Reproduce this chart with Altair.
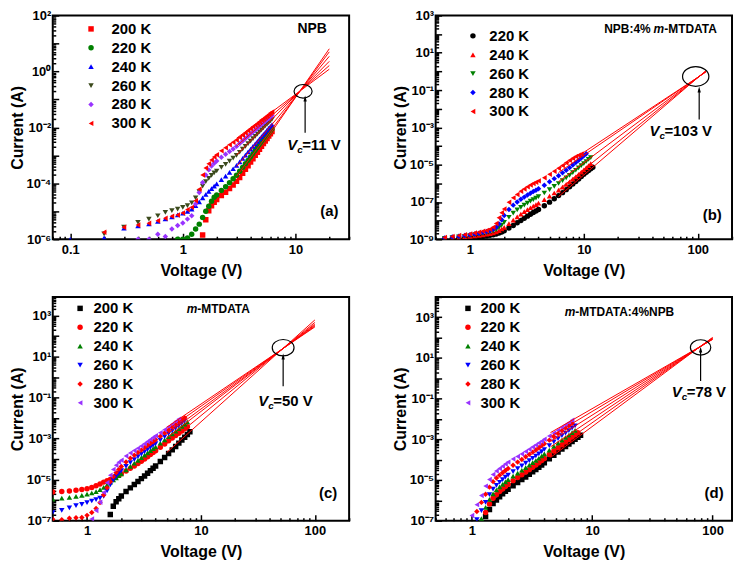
import altair as alt
import pandas as pd

FONT = "Liberation Sans"
RED, GREEN, BLUE, OLIVE, PURPLE, BLACK = "#FF0000", "#008000", "#0000FF", "#3B4A1C", "#9933FF", "#000000"
SHAPES6 = ["square", "circle", "triangle-up", "triangle-down", "diamond", "triangle-left"]

# ---------------- (a) NPB : log10(current / A) ----------------
a_volt = [0.1, 0.2, 0.3, 0.4, 0.5, 0.6, 0.7, 0.8, 0.9, 1.0, 1.1, 1.2, 1.3, 1.4, 1.5, 1.6, 1.7, 1.8, 1.9, 2.0,
          2.2, 2.4, 2.6, 2.8, 3.0, 3.2, 3.4, 3.6, 3.8, 4.0, 4.2, 4.4, 4.6, 4.8, 5.0, 5.2, 5.4, 5.6, 5.8, 6.0, 6.2]
a_200 = [None] * 14 + [-5.85, -5.30, -4.98, -4.80, -4.68, -4.58, -4.44, -4.32, -4.19, -4.06, -3.93, -3.79, -3.64,
                       -3.50, -3.37, -3.24, -3.12, -3.00, -2.89, -2.78, -2.68, -2.58, -2.49, -2.40, -2.31, -2.23, -2.15]
a_220 = [None] * 8 + [-6.0, -6.0, -5.95, -5.82, -5.63, -5.46, -5.22, -5.00, -4.82, -4.64, -4.50, -4.42,
                      -4.26, -4.12, -3.98, -3.84, -3.71, -3.57, -3.43, -3.30, -3.18, -3.06, -2.94, -2.83, -2.73,
                      -2.63, -2.54, -2.45, -2.36, -2.28, -2.20, -2.12, -2.05]
a_240 = [-6.0, -5.95, -5.60, -5.52, -5.45, -5.36, -5.27, -5.20, -5.13, -5.07, -5.00, -4.92, -4.80, -4.66, -4.52,
         -4.40, -4.29, -4.19, -4.10, -4.02, -3.87, -3.74, -3.61, -3.48, -3.36, -3.23, -3.11, -2.99, -2.88, -2.78,
         -2.68, -2.59, -2.50, -2.41, -2.33, -2.25, -2.18, -2.10, -2.03, -1.96, -1.90]
a_260 = [None, -5.81, -5.57, -5.40, -5.28, -5.16, -5.04, -4.98, -4.92, -4.86, -4.80, -4.70, -4.52, -4.30, -4.10,
         -3.94, -3.82, -3.72, -3.63, -3.56, -3.43, -3.32, -3.21, -3.10, -3.00, -2.89, -2.78, -2.68, -2.58, -2.49,
         -2.40, -2.32, -2.24, -2.16, -2.09, -2.02, -1.95, -1.89, -1.83, -1.77, -1.71]
a_280 = [None, None, None, -6.0, -6.0, -5.82, -5.90, -5.63, -5.51, -5.42, -5.28, -5.16, -4.74, -4.33, -3.97,
         -3.70, -3.52, -3.38, -3.28, -3.20, -3.07, -2.96, -2.86, -2.77, -2.68, -2.58, -2.49, -2.40, -2.32, -2.24,
         -2.17, -2.10, -2.03, -1.96, -1.90, -1.84, -1.78, -1.73, -1.68, -1.62, -1.58]
a_300 = [None, -5.75, -5.57, -5.49, -5.43, -5.34, -5.25, -5.18, -5.13, -5.06, -4.94, -4.86, -4.62, -4.21, -3.70,
         -3.45, -3.30, -3.17, -3.06, -2.98, -2.84, -2.73, -2.62, -2.53, -2.45, -2.36, -2.28, -2.20, -2.12, -2.05,
         -1.98, -1.92, -1.86, -1.80, -1.74, -1.69, -1.64, -1.59, -1.54, -1.49, -1.45]
a_labels = ["200 K", "220 K", "240 K", "260 K", "280 K", "300 K"]
a_colors = [RED, GREEN, BLUE, OLIVE, PURPLE, RED]
a_fit_v = [3.0, 20.0]
a_fit_start = [-3.97, -3.75, -3.40, -2.99, -2.67, -2.39]
a_fit_end = [0.81, 0.70, 0.54, 0.36, 0.21, 0.08]

# ---------------- (b) NPB:4% m-MTDATA ----------------
b_volt = [0.6, 0.7, 0.8, 0.9, 1.0, 1.1, 1.2, 1.3, 1.4, 1.5, 1.6, 1.7, 1.8, 1.9, 2.0,
          2.2, 2.4, 2.6, 2.8, 3.0, 3.2, 3.4, 3.6, 3.8, 4.0,
          4.5, 5.0, 5.5, 6.0, 6.5, 7.0, 7.5, 8.0, 8.5, 9.0, 9.5, 10.0, 10.5, 11.0, 11.5, 12.0]
b_220 = [-8.99, -8.97, -8.95, -8.93, -8.91, -8.89, -8.87, -8.85, -8.82, -8.79, -8.76, -8.72, -8.67, -8.61, -8.54,
         -8.40, -8.26, -8.12, -7.99, -7.87, -7.76, -7.66, -7.57, -7.48, -7.40,
         -7.20, -7.01, -6.83, -6.66, -6.50, -6.34, -6.19, -6.04, -5.90, -5.77, -5.64, -5.52, -5.41, -5.31, -5.22, -5.14]
b_240 = [-8.97, -8.94, -8.91, -8.88, -8.85, -8.82, -8.79, -8.76, -8.73, -8.70, -8.66, -8.61, -8.54, -8.45, -8.36,
         -8.16, -7.97, -7.80, -7.65, -7.52, -7.41, -7.31, -7.22, -7.14, -7.06,
         -6.87, -6.69, -6.52, -6.36, -6.21, -6.06, -5.92, -5.78, -5.65, -5.52, -5.40, -5.28, -5.16, -5.05, -4.95, None]
b_260 = [-8.95, -8.91, -8.87, -8.84, -8.80, -8.77, -8.73, -8.69, -8.65, -8.61, -8.56, -8.49, -8.38, -8.24, -8.09,
         -7.82, -7.60, -7.43, -7.29, -7.17, -7.06, -6.96, -6.87, -6.79, -6.71,
         -6.52, -6.34, -6.17, -6.01, -5.86, -5.71, -5.57, -5.43, -5.30, -5.17, -5.05, -4.94, -4.83, -4.72, -4.62, None]
b_280 = [-8.93, -8.88, -8.84, -8.80, -8.76, -8.72, -8.68, -8.63, -8.58, -8.53, -8.46, -8.36, -8.18, -7.95, -7.73,
         -7.40, -7.17, -7.00, -6.86, -6.74, -6.63, -6.53, -6.44, -6.37, -6.29,
         -6.10, -5.92, -5.75, -5.59, -5.44, -5.30, -5.16, -5.02, -4.89, -4.76, -4.64, -4.52, -4.41, None, None, None]
b_300 = [-8.90, -8.85, -8.80, -8.76, -8.72, -8.67, -8.62, -8.57, -8.53, -8.46, -8.36, -8.15, -7.85, -7.58, -7.38,
         -7.02, -6.78, -6.60, -6.43, -6.30, -6.19, -6.09, -6.01, -5.94, -5.87,
         -5.70, -5.52, -5.35, -5.19, -5.04, -4.90, -4.77, -4.66, -4.56, -4.49, -4.43, None, None, None, None, None]
b_labels = ["220 K", "240 K", "260 K", "280 K", "300 K"]
b_colors = [BLACK, RED, GREEN, BLUE, RED]
b_shapes = ["circle", "triangle-up", "triangle-down", "diamond", "triangle-left"]
b_fit_v = [6.0, 118.0]
b_fit_start = [-6.71, -6.35, -5.91, -5.42, -5.23]
b_fit_end = [0.04, 0.02, 0.0, -0.02, -0.03]

# ---------------- (c) m-MTDATA ----------------
c_volt = [0.5, 0.6, 0.7, 0.8, 0.9, 1.0, 1.1, 1.2, 1.3, 1.4, 1.5, 1.6, 1.7, 1.8, 1.9, 2.0,
          2.2, 2.4, 2.6, 2.8, 3.0, 3.2, 3.4, 3.6, 3.8, 4.0,
          4.4, 4.8, 5.2, 5.6, 6.0, 6.4, 6.8, 7.2, 7.6, 8.0]
c_200 = [None] * 11 + [-6.70, -6.30, -6.08, -5.93, -5.80, -5.58, -5.40, -5.24, -5.09, -4.95, -4.82, -4.69, -4.56,
                       -4.44, -4.33, -4.12, -3.92, -3.73, -3.55, -3.38, -3.22, -3.07, -2.93, -2.80, -2.67]
c_220 = [-5.60, -5.58, -5.55, -5.52, -5.48, -5.44, -5.38, -5.30, -5.21, -5.12, -5.05, -4.99, -4.92, -4.85, -4.78,
         -4.71, -4.58, -4.45, -4.33, -4.21, -4.10, -3.99, -3.88, -3.78, -3.68, -3.59,
         -3.42, -3.26, -3.11, -2.97, -2.85, -2.74, -2.63, -2.52, -2.42, None]
c_240 = [-5.95, -5.90, -5.86, -5.82, -5.77, -5.71, -5.65, -5.58, -5.49, -5.38, -5.25, -5.12, -5.01, -4.91, -4.81,
         -4.72, -4.52, -4.35, -4.20, -4.06, -3.93, -3.81, -3.70, -3.59, -3.49, -3.40,
         -3.22, -3.06, -2.91, -2.77, -2.64, -2.52, -2.40, -2.29, -2.19, None]
c_260 = [-6.60, -6.50, -6.38, -6.27, -6.20, -6.12, -6.04, -5.97, -5.90, -5.81, -5.55, -5.25, -5.02, -4.84, -4.69,
         -4.56, -4.35, -4.17, -4.02, -3.88, -3.76, -3.64, -3.53, -3.43, -3.33, -3.24,
         -3.07, -2.91, -2.76, -2.62, -2.49, -2.37, -2.25, -2.14, None, None]
c_280 = [-6.93, -6.95, -6.88, -6.86, -6.84, -6.74, -6.60, -6.40, -6.12, -5.75, -5.40, -5.10, -4.86, -4.66, -4.50,
         -4.36, -4.14, -3.96, -3.81, -3.68, -3.56, -3.45, -3.34, -3.24, -3.15, -3.06,
         -2.89, -2.73, -2.58, -2.44, -2.31, -2.19, -2.08, -1.98, None, None]
c_300 = [None] * 6 + [-6.92, -6.50, -6.10, -5.62, -5.15, -4.78, -4.50, -4.30, -4.15, -4.05,
                      -3.85, -3.70, -3.58, -3.47, -3.36, -3.25, -3.14, -3.04, -2.95, -2.86,
                      -2.71, -2.57, -2.43, -2.30, -2.17, -2.05, None, None, None, None]
c_labels = ["200 K", "220 K", "240 K", "260 K", "280 K", "300 K"]
c_colors = [BLACK, RED, GREEN, BLUE, RED, PURPLE]
c_fit_v = [5.0, 100.0]
c_fit_start = [-3.68, -3.25, -2.96, -2.79, -2.60, -2.45]
c_fit_end = [2.78, 2.66, 2.58, 2.53, 2.48, 2.44]

# ---------------- (d) m-MTDATA:4%NPB ----------------
d_volt = [0.9, 1.0, 1.1, 1.2, 1.3, 1.4, 1.5, 1.6, 1.7, 1.8, 1.9, 2.0,
          2.2, 2.4, 2.6, 2.8, 3.0, 3.2, 3.4, 3.6, 3.8, 4.0,
          4.4, 4.8, 5.2, 5.6, 6.0, 6.4, 6.8, 7.2, 7.6, 8.0]
d_200 = [None] * 4 + [-6.80, -6.45, -6.15, -5.98, -5.82, -5.68, -5.55, -5.45,
                      -5.28, -5.12, -4.98, -4.85, -4.72, -4.60, -4.48, -4.37, -4.26, -4.15,
                      -3.96, -3.78, -3.62, -3.48, -3.35, -3.23, -3.11, -3.00, -2.90, -2.80]
d_220 = [None] * 4 + [-6.60, -6.18, -5.90, -5.72, -5.57, -5.44, -5.32, -5.21,
                      -5.03, -4.88, -4.74, -4.61, -4.49, -4.37, -4.26, -4.15, -4.04, -3.94,
                      -3.75, -3.57, -3.41, -3.27, -3.13, -3.01, -2.89, -2.78, -2.68, None]
d_240 = [None] * 3 + [-6.90, -6.35, -5.95, -5.68, -5.49, -5.34, -5.21, -5.09, -4.98,
                      -4.81, -4.66, -4.52, -4.39, -4.27, -4.15, -4.04, -3.93, -3.82, -3.72,
                      -3.53, -3.35, -3.19, -3.04, -2.91, -2.79, -2.67, -2.56, None, None]
d_260 = [None] * 2 + [-6.95, -6.50, -6.10, -5.72, -5.45, -5.26, -5.11, -4.98, -4.86, -4.76,
                      -4.59, -4.44, -4.30, -4.17, -4.05, -3.93, -3.82, -3.71, -3.60, -3.50,
                      -3.31, -3.13, -2.97, -2.82, -2.69, -2.57, -2.45, -2.34, None, None]
d_280 = [None] * 2 + [-6.55, -6.10, -5.70, -5.35, -5.08, -4.90, -4.76, -4.64, -4.53, -4.43,
                      -4.27, -4.12, -3.99, -3.86, -3.74, -3.63, -3.52, -3.41, -3.31, -3.22,
                      -3.04, -2.87, -2.72, -2.58, -2.45, -2.33, -2.22, None, None, None]
d_300 = [None, -6.74, -6.21, -5.76, -5.30, -4.97, -4.73, -4.56, -4.43, -4.32, -4.21, -4.12,
         -3.97, -3.84, -3.72, -3.60, -3.49, -3.38, -3.28, -3.18, -3.09, -3.00,
         -2.84, -2.69, -2.55, -2.42, -2.30, -2.18, -2.06, None, None, None]
d_labels = ["200 K", "220 K", "240 K", "260 K", "280 K", "300 K"]
d_colors = [BLACK, RED, GREEN, BLUE, RED, PURPLE]
d_fit_v = [4.5, 100.0]
d_fit_start = [-3.89, -3.63, -3.37, -3.11, -2.86, -2.67]
d_fit_end = [2.01, 1.99, 1.96, 1.94, 1.92, 1.91]

SUP = str.maketrans("-0123456789", "⁻⁰¹²³⁴⁵⁶⁷⁸⁹")
ELLIPSE = "M -1 0 A 1 0.75 0 1 1 1 0 A 1 0.75 0 1 1 -1 0 Z"
ARROW = "M 0 -1 L 0.55 1 L -0.55 1 Z"


def y_label_expr(exps):
    e = "round(log(datum.value) / LN10)"
    parts = [f"{e} == {n} ? '10{str(n).translate(SUP)}'" for n in exps]
    return " : ".join(parts) + " : ''"


def minor(lo, hi, d0, d1):
    return [k * 10.0 ** n for n in range(d0, d1) for k in range(2, 10) if lo <= k * 10.0 ** n <= hi]


def point_df(volt, series, labels):
    rows = []
    for lab, logs in zip(labels, series):
        for v, e in zip(volt, logs):
            if e is not None:
                rows.append({"V": v, "I": 10 ** e, "T": lab})
    return pd.DataFrame(rows)


def fit_df(fv, starts, ends, labels):
    rows = []
    for lab, s, e in zip(labels, starts, ends):
        rows.append({"V": fv[0], "I": 10 ** s, "T": lab})
        rows.append({"V": fv[1], "I": 10 ** e, "T": lab})
    return pd.DataFrame(rows)


def txt(xs, ys, x, y, s, size, italic=False, align="left", dx=0, dy=0):
    df = pd.DataFrame({"V": [x], "I": [y], "t": [s]})
    return alt.Chart(df).mark_text(font=FONT, fontSize=size, fontWeight="bold",
                                   fontStyle="italic" if italic else "normal", align=align,
                                   baseline="middle", dx=dx, dy=dy, color="black").encode(
        x=alt.X("V:Q", scale=xs, axis=None), y=alt.Y("I:Q", scale=ys, axis=None), text="t:N")


def panel(volt, series, labels, colors, shapes, fv, fs, fe, xdom, ydom, xmaj, xdec, ydec, ylab,
          leg_xy, leg_off, notes, vc, ell_size, W, H):
    xs = alt.Scale(type="log", domain=xdom, nice=False)
    ys = alt.Scale(type="log", domain=ydom, nice=False)
    ymaj = [10.0 ** n for n in range(ydec[0], ydec[1] + 1)]
    leg = alt.Legend(title=None, orient="none", legendX=leg_xy[0], legendY=leg_xy[1], padding=0,
                     labelFont=FONT, labelFontSize=15, labelFontWeight="bold", labelColor="black",
                     symbolSize=30, rowPadding=3, labelOffset=leg_off, symbolStrokeWidth=0)
    pts = alt.Chart(point_df(volt, series, labels)).mark_point(
        filled=True, size=30, opacity=1, clip=True).encode(
        x=alt.X("V:Q", scale=xs, axis=alt.Axis(orient="bottom", values=xmaj, format="~g", title="Voltage (V)",
                                              domain=False, grid=False, tickSize=6, offset=-6, labelPadding=4,
                                              titlePadding=6, labelFlush=False, labelOverlap=False)),
        y=alt.Y("I:Q", scale=ys, axis=alt.Axis(orient="left", values=ymaj, labelExpr=y_label_expr(ylab),
                                              title="Current (A)", domain=False, grid=False, tickSize=6,
                                              offset=-6, labelPadding=2, titlePadding=1, labelFlush=False,
                                              labelOverlap=False)),
        color=alt.Color("T:N", scale=alt.Scale(domain=labels, range=colors), legend=leg),
        shape=alt.Shape("T:N", scale=alt.Scale(domain=labels, range=shapes), legend=leg),
    )
    fits = alt.Chart(fit_df(fv, fs, fe, labels)).mark_line(color=RED, strokeWidth=1, clip=True).encode(
        x=alt.X("V:Q", scale=xs, axis=alt.Axis(orient="bottom", values=minor(xdom[0], xdom[1], xdec[0], xdec[1]),
                                              labels=False, title=None, domain=False, grid=False,
                                              tickSize=3, offset=-3)),
        y=alt.Y("I:Q", scale=ys, axis=alt.Axis(orient="left", values=minor(ydom[0], ydom[1], ydec[0], ydec[1] + 1),
                                              labels=False, title=None, domain=False, grid=False,
                                              tickSize=3, offset=-3)),
        detail="T:N",
    )
    layers = [pts, fits]
    for (x, y, s, size, italic, align, dx, dy) in notes:
        layers.append(txt(xs, ys, x, y, s, size, italic, align, dx, dy))
    # V_c label, arrow and ellipse
    vx, ylab_y, d0, vtext, ay0, ay1, ex, ey = vc
    layers.append(txt(xs, ys, vx, ylab_y, "V", 15, True, "left", d0, 0))
    layers.append(txt(xs, ys, vx, ylab_y, "c", 10, True, "left", d0 + 10, 5))
    layers.append(txt(xs, ys, vx, ylab_y, vtext, 15, False, "left", d0 + 15, 0))
    arr = pd.DataFrame({"V": [vx], "I": [ay0], "I2": [ay1]})
    layers.append(alt.Chart(arr).mark_rule(color="black", strokeWidth=1.2).encode(
        x=alt.X("V:Q", scale=xs, axis=None), y=alt.Y("I:Q", scale=ys, axis=None), y2="I2:Q"))
    layers.append(alt.Chart(arr).mark_point(shape=ARROW, filled=True, size=36, color="black", opacity=1).encode(
        x=alt.X("V:Q", scale=xs, axis=None), y=alt.Y("I2:Q", scale=ys, axis=None)))
    ell = pd.DataFrame({"V": [ex], "I": [ey]})
    layers.append(alt.Chart(ell).mark_point(shape=ELLIPSE, filled=False, size=ell_size, color="black",
                                            strokeWidth=1.2, opacity=1).encode(
        x=alt.X("V:Q", scale=xs, axis=None), y=alt.Y("I:Q", scale=ys, axis=None)))
    return alt.layer(*layers).resolve_axis(x="independent", y="independent").properties(width=W, height=H)


W, H = 298, 225

pa = panel(a_volt, [a_200, a_220, a_240, a_260, a_280, a_300], a_labels, a_colors, SHAPES6,
           a_fit_v, a_fit_start, a_fit_end, [0.07, 30], [1e-6, 1e2], [0.1, 1, 10], (-2, 2), (-6, 2),
           [-6, -4, -2, 0, 2], (31, 6), 13,
           [(14.1, 32, "NPB", 14, False, "center", 0, 0), (20.0, 1.0e-5, "(a)", 15, False, "center", 0, 0)],
           (12.2, 2.4e-3, -18, "=11 V", 10 ** -2.19, 10 ** -0.97, 11.7, 0.195), 330, W, H)

pb = panel(b_volt, [b_220, b_240, b_260, b_280, b_300], b_labels, b_colors, b_shapes,
           b_fit_v, b_fit_start, b_fit_end, [0.5, 200], [1e-9, 1e3], [1, 10, 100], (-1, 3), (-9, 3),
           [-9, -7, -5, -3, -1, 1, 3], (30, 13), 9,
           [(41, 178, "NPB:4%", 12, False, "right", -3, 0), (41, 178, "m", 12, True, "left", 0, 0),
            (41, 178, "-MTDATA", 12, False, "left", 10.7, 0), (134, 2.1e-8, "(b)", 15, False, "center", 0, 0)],
           (103, 6.5e-4, -50, "=103 V", 10 ** -2.58, 10 ** -0.97, 96, 0.54), 700, W, H)

pc = panel(c_volt, [c_200, c_220, c_240, c_260, c_280, c_300], c_labels, c_colors, SHAPES6,
           c_fit_v, c_fit_start, c_fit_end, [0.5, 200], [1e-7, 8e3], [1, 10, 100], (-1, 3), (-7, 3),
           [-7, -5, -3, -1, 1, 3], (20, 4), 6,
           [(7.5, 2090, "m", 12, True, "left", 0, 0), (7.5, 2090, "-MTDATA", 12, False, "left", 10.7, 0),
            (131, 2.3e-6, "(c)", 15, False, "center", 0, 0)],
           (52.7, 0.065, -25, "=50 V", 10 ** -0.45, 10 ** 1.0, 52.7, 27), 480, W, H)

pd_ = panel(d_volt, [d_200, d_220, d_240, d_260, d_280, d_300], d_labels, d_colors, SHAPES6,
            d_fit_v, d_fit_start, d_fit_end, [0.5, 145], [1e-7, 1e4], [1, 10, 100], (-1, 3), (-7, 4),
            [-7, -5, -3, -1, 1, 3], (25, 4), 5,
            [(5.9, 1740, "m", 12, True, "left", 0, 0), (5.9, 1740, "-MTDATA:4%NPB", 12, False, "left", 10.7, 0),
             (103, 2.3e-6, "(d)", 15, False, "center", 0, 0)],
            (79.5, 0.2, -29, "=78 V", 10 ** -0.13, 10 ** 1.41, 79.5, 33), 420, W, H)

chart = alt.concat(pa, pb, pc, pd_, columns=2, spacing={"row": 11, "column": 40}).resolve_scale(
    x="independent", y="independent", color="independent", shape="independent"
).configure_view(stroke="black", strokeWidth=2).configure_axis(
    labelFont=FONT, titleFont=FONT, labelFontWeight="bold", titleFontWeight="bold", labelFontSize=13,
    titleFontSize=16, labelColor="black", titleColor="black", tickColor="black", tickWidth=1.5
).properties(padding={"left": 0, "top": -1, "right": 0, "bottom": 0})

chart.save("out.html", embed_options={"renderer": "svg", "actions": False})
